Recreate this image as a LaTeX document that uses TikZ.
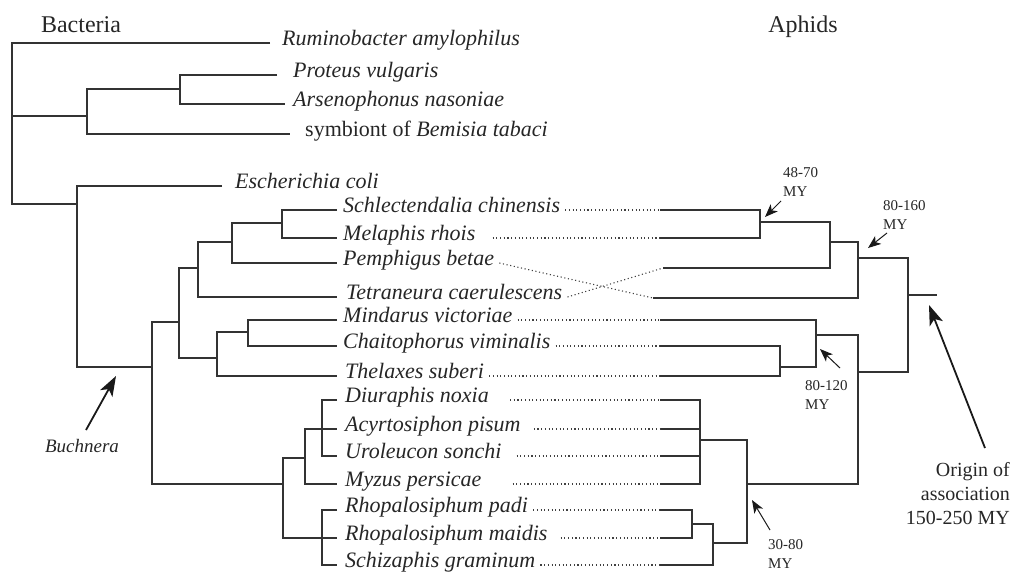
\documentclass[tikz,border=0pt]{standalone}
\usepackage{fontspec}
\setmainfont{Liberation Serif}
\usetikzlibrary{arrows.meta}
\begin{document}
\begin{tikzpicture}[x=1pt,y=-1pt,
  branch/.style={draw=black!80, line width=1.2pt},
  link/.style={draw=black!75, line width=1.1pt, dash pattern=on 1.1pt off 2.6pt},
  taxon/.style={anchor=mid west, inner xsep=5pt, inner ysep=0pt, font=\fontsize{22}{26}\selectfont\itshape, text=black!85},
  title/.style={anchor=base, inner sep=0pt, font=\fontsize{24}{28}\selectfont, text=black!85},
  age/.style={anchor=north west, inner sep=0pt, align=left, font=\fontsize{15}{19}\selectfont, text=black!85},
  agearrow/.style={draw=black!90, line width=1pt, -{Stealth[length=13pt,width=10pt,inset=3.5pt]}},
  bigarrow/.style={draw=black!90, line width=1.8pt, -{Stealth[length=20pt,width=14pt,inset=5pt]}}]
\useasboundingbox (0,0) rectangle (1013,579);

\node[title] (bact) at (81,32) {Bacteria};
\node[title] (aphi) at (803,32) {Aphids};

% bacteria tree
\coordinate (r0) at (12,116);
\coordinate (b1) at (87,116);
\coordinate (b2) at (180,89);
\coordinate (e0) at (77,204);
\coordinate (bu) at (152,367);
\coordinate (n1) at (179,322);
\coordinate (n2) at (283,484);
\coordinate (n3) at (198,268);
\coordinate (n4) at (217,358);
\coordinate (n5) at (232,242);
\coordinate (n6) at (282,223);
\coordinate (n7) at (248,332);
\coordinate (n8) at (305,458);
\coordinate (d1) at (322,429);
\coordinate (rh) at (322,538);

\coordinate (rum) at (270,43);
\coordinate (pro) at (277,75);
\coordinate (ars) at (285,104);
\coordinate (sym) at (290,134);
\coordinate (eco) at (222,186);
\coordinate (sch) at (337,210);
\coordinate (mel) at (337,238);
\coordinate (pem) at (337,263);
\coordinate (tet) at (337,297);
\coordinate (min) at (337,320);
\coordinate (cha) at (337,346);
\coordinate (the) at (337,376);
\coordinate (diu) at (337,400);
\coordinate (acy) at (337,429);
\coordinate (uro) at (337,456);
\coordinate (myz) at (337,484);
\coordinate (rpa) at (337,510);
\coordinate (rma) at (337,538);
\coordinate (szg) at (337,565);

\draw[branch] (rum) -| (r0) |- (e0);
\draw[branch] (b1) -- (r0);
\draw[branch] (b2) -| (b1) |- (sym);
\draw[branch] (pro) -| (b2) |- (ars);
\draw[branch] (eco) -| (e0) |- (bu);
\draw[branch] (n1) -| (bu) |- (n2);
\draw[branch] (n3) -| (n1) |- (n4);
\draw[branch] (n5) -| (n3) |- (tet);
\draw[branch] (n6) -| (n5) |- (pem);
\draw[branch] (sch) -| (n6) |- (mel);
\draw[branch] (n7) -| (n4) |- (the);
\draw[branch] (min) -| (n7) |- (cha);
\draw[branch] (n8) -| (n2) |- (rh);
\draw[branch] (d1) -| (n8) |- (myz);
\draw[branch] (diu) -| (d1) |- (uro);
\draw[branch] (d1) -- (acy);
\draw[branch] (rpa) -| (rh) |- (szg);
\draw[branch] (rh) -- (rma);

\node[taxon] (Lrum) at (277,43) {Ruminobacter amylophilus};
\node[taxon] (Lpro) at (288,75) {Proteus vulgaris};
\node[taxon] (Lars) at (288,104) {Arsenophonus nasoniae};
\node[taxon] (Lsym) at (300,134) {\upshape symbiont of \itshape Bemisia tabaci};
\node[taxon] (Leco) at (230,186) {Escherichia coli};
\node[taxon] (Lsch) at (338,210) {Schlectendalia chinensis};
\node[taxon] (Lmel) at (338,238) {Melaphis rhois};
\node[taxon] (Lpem) at (338,263) {Pemphigus betae};
\node[taxon] (Ltet) at (341,297) {Tetraneura caerulescens};
\node[taxon] (Lmin) at (338,320) {Mindarus victoriae};
\node[taxon] (Lcha) at (338,346) {Chaitophorus viminalis};
\node[taxon] (Lthe) at (340,376) {Thelaxes suberi};
\node[taxon] (Ldiu) at (340,400) {Diuraphis noxia};
\node[taxon] (Lacy) at (340,429) {Acyrtosiphon pisum};
\node[taxon] (Luro) at (340,456) {Uroleucon sonchi};
\node[taxon] (Lmyz) at (340,484) {Myzus persicae};
\node[taxon] (Lrpa) at (340,510) {Rhopalosiphum padi};
\node[taxon] (Lrma) at (340,538) {Rhopalosiphum maidis};
\node[taxon] (Lszg) at (340,565) {Schizaphis graminum};

% aphid tree
\coordinate (m1) at (760,222);
\coordinate (m2) at (830,242);
\coordinate (m3) at (858,258);
\coordinate (m4) at (908,295);
\coordinate (m5) at (858,372);
\coordinate (m6) at (816,335);
\coordinate (m7) at (747,484);
\coordinate (m8) at (780,367);
\coordinate (m9) at (700,440);
\coordinate (m10) at (713,543);
\coordinate (m11) at (692,524);
\coordinate (stub) at (937,295);

\coordinate (Rsch) at (660,210);
\coordinate (Rmel) at (660,238);
\coordinate (Rtet) at (663,268);
\coordinate (Rpem) at (653,298);
\coordinate (Rmin) at (660,320);
\coordinate (Rcha) at (660,346);
\coordinate (Rthe) at (660,376);
\coordinate (Rdiu) at (660,400);
\coordinate (Racy) at (660,429);
\coordinate (Ruro) at (660,456);
\coordinate (Rmyz) at (660,484);
\coordinate (Rrpa) at (660,510);
\coordinate (Rrma) at (660,538);
\coordinate (Rszg) at (660,565);

\draw[branch] (Rsch) -| (m1) |- (Rmel);
\draw[branch] (m1) -| (m2) |- (Rtet);
\draw[branch] (m2) -| (m3) |- (Rpem);
\draw[branch] (m3) -| (m4) |- (m5);
\draw[branch] (m4) -- (stub);
\draw[branch] (m6) -| (m5) |- (m7);
\draw[branch] (Rmin) -| (m6) |- (m8);
\draw[branch] (Rcha) -| (m8) |- (Rthe);
\draw[branch] (m9) -| (m7) |- (m10);
\draw[branch] (Rdiu) -| (m9) |- (Rmyz);
\draw[branch] (Racy) -- (Racy -| m9);
\draw[branch] (Ruro) -- (Ruro -| m9);
\draw[branch] (m11) -| (m10) |- (Rszg);
\draw[branch] (Rrpa) -| (m11) |- (Rrma);

\draw[link] (Lsch.mid east) -- (Rsch);
\draw[link] ([xshift=12pt]Lmel.mid east) -- (Rmel);
\draw[link] (Lpem.mid east) -- (Rpem);
\draw[link] (Ltet.mid east) -- (Rtet);
\draw[link] (Lmin.mid east) -- (Rmin);
\draw[link] (Lcha.mid east) -- (Rcha);
\draw[link] (Lthe.mid east) -- (Rthe);
\draw[link] ([xshift=16pt]Ldiu.mid east) -- (Rdiu);
\draw[link] ([xshift=8pt]Lacy.mid east) -- (Racy);
\draw[link] ([xshift=10pt]Luro.mid east) -- (Ruro);
\draw[link] ([xshift=26pt]Lmyz.mid east) -- (Rmyz);
\draw[link] (Lrpa.mid east) -- (Rrpa);
\draw[link] ([xshift=8pt]Lrma.mid east) -- (Rrma);
\draw[link] (Lszg.mid east) -- (Rszg);

% ages
\node[age] (t1) at (783,167) {48-70\\MY};
\node[age] (t2) at (883,200) {80-160\\MY};
\node[age] (t3) at (805,380) {80-120\\MY};
\node[age] (t4) at (768,539) {30-80\\MY};
\node[anchor=north east, inner sep=0pt, align=right, font=\fontsize{20}{24}\selectfont, text=black!85] (orig) at (1010,462) {Origin of\\association\\150-250 MY};
\node[anchor=base, inner sep=0pt, font=\fontsize{19}{22}\selectfont\itshape, text=black!85] (buch) at (82,452) {Buchnera};

\coordinate (a1t) at (781,201);
\coordinate (a1h) at (765,217);
\coordinate (a2t) at (887,233);
\coordinate (a2h) at (868,248);
\coordinate (a3t) at (840,368);
\coordinate (a3h) at (820,349);
\coordinate (a4t) at (770,530);
\coordinate (a4h) at (752,500);
\coordinate (a5t) at (985,448);
\coordinate (a5h) at (929,305);
\coordinate (a6t) at (86,430);
\coordinate (a6h) at (116,376);

\draw[agearrow] (a1t) -- (a1h);
\draw[agearrow] (a2t) -- (a2h);
\draw[agearrow] (a3t) -- (a3h);
\draw[agearrow] (a4t) -- (a4h);
\draw[bigarrow] (a5t) -- (a5h);
\draw[bigarrow] (a6t) -- (a6h);
\end{tikzpicture}
\end{document}
